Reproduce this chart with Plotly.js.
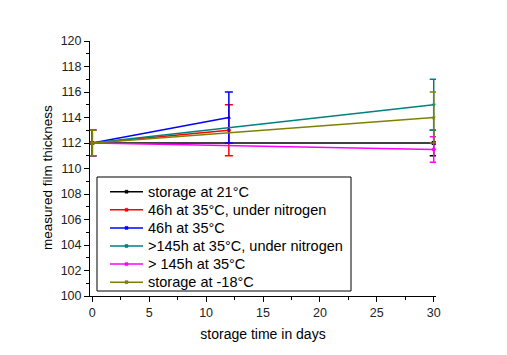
<!DOCTYPE html>
<html><head><meta charset="utf-8">
<script src="https://cdn.plot.ly/plotly-3.0.1.min.js"></script>
<style>html,body{margin:0;padding:0;background:#fff}#c{width:507px;height:355px}</style>
</head><body><div id="c"></div>
<script>
const names = ["storage at 21°C","46h at 35°C, under nitrogen","46h at 35°C",">145h at 35°C, under nitrogen","> 145h at 35°C","storage at -18°C"];
const colors = ["#000000","#FF0000","#0000FF","#008080","#FF00FF","#808000"];
const symbols = ["square","circle","triangle-up","triangle-down","diamond","star"];
const xs = [[0,30],[0,12],[0,12],[0,30],[0,30],[0,30]];
const ys = [[112,112],[112,113],[112,114],[112,115],[112,111.5],[112,114]];
const errs = [[1,1],[1,2],[1,2],[1,2],[1,1],[1,2]];
const xTitle = 'storage time in days';
const yTitle = 'measured film thickness';

const traces = names.map((n,i)=>({
  x: xs[i], y: ys[i], name: n, type:'scatter', mode:'lines+markers',
  line:{color:colors[i], width:1.5},
  marker:{color:colors[i], symbol:symbols[i], size:4},
  error_y:{type:'data', array:errs[i], visible:true, color:colors[i], thickness:1.5, width:4},
  showlegend:false
}));

// custom legend (layout decoration in paper coordinates)
const L=90, T=41, W=346, H=255;
const px = v => (v-L)/W, py = v => (T+H-v)/H;
const shapes = [{type:'rect', xref:'paper', yref:'paper', x0:px(97), x1:px(351), y0:py(177), y1:py(291),
  line:{color:'#000', width:1}, fillcolor:'#fff', layer:'above'}];
const annotations = [];
names.forEach((n,i)=>{
  const yc = 191.7 + i*18.1;
  shapes.push({type:'line', xref:'paper', yref:'paper', x0:px(110), x1:px(143), y0:py(yc), y1:py(yc),
    line:{color:colors[i], width:1.5}, layer:'above'});
  shapes.push({type:'rect', xref:'paper', yref:'paper', x0:px(125), x1:px(128), y0:py(yc-1.5), y1:py(yc+1.5),
    line:{color:colors[i], width:0.5}, fillcolor:colors[i], layer:'above'});
  annotations.push({xref:'paper', yref:'paper', x:px(146), y:py(yc), xanchor:'left', yanchor:'middle',
    text:n, showarrow:false, font:{size:14.5, color:'#000'}});
});
annotations.push({xref:'paper', yref:'paper', x:px(47), y:py(178), xanchor:'center', yanchor:'middle',
  text:yTitle, textangle:-90, showarrow:false, font:{size:13.5, color:'#000'}});

const layout = {
  width:507, height:355,
  margin:{l:90,r:71,t:41,b:59},
  paper_bgcolor:'#fff', plot_bgcolor:'#fff',
  font:{family:'"Liberation Sans", Arial, sans-serif', size:13, color:'#000'},
  showlegend:false,
  shapes:shapes, annotations:annotations,
  xaxis:{range:[-0.2,30.2], showline:true, linecolor:'#000', linewidth:1, showgrid:false, zeroline:false,
    ticks:'outside', ticklen:5, tickcolor:'#000', dtick:5, tick0:0,
    tickfont:{size:12.5, color:'#222'},
    minor:{ticks:'outside', ticklen:3, dtick:2.5, tickcolor:'#000'},
    title:{text:xTitle, font:{size:14}, standoff:10}},
  yaxis:{range:[100,120], showline:true, linecolor:'#000', linewidth:1, showgrid:false, zeroline:false,
    ticks:'outside', ticklen:5, tickcolor:'#000', dtick:2, tick0:100,
    tickfont:{size:12.5, color:'#222'},
    minor:{ticks:'outside', ticklen:3, dtick:1, tickcolor:'#000'}}
};
Plotly.newPlot('c', traces, layout, {displayModeBar:false, staticPlot:true});
</script></body></html>
